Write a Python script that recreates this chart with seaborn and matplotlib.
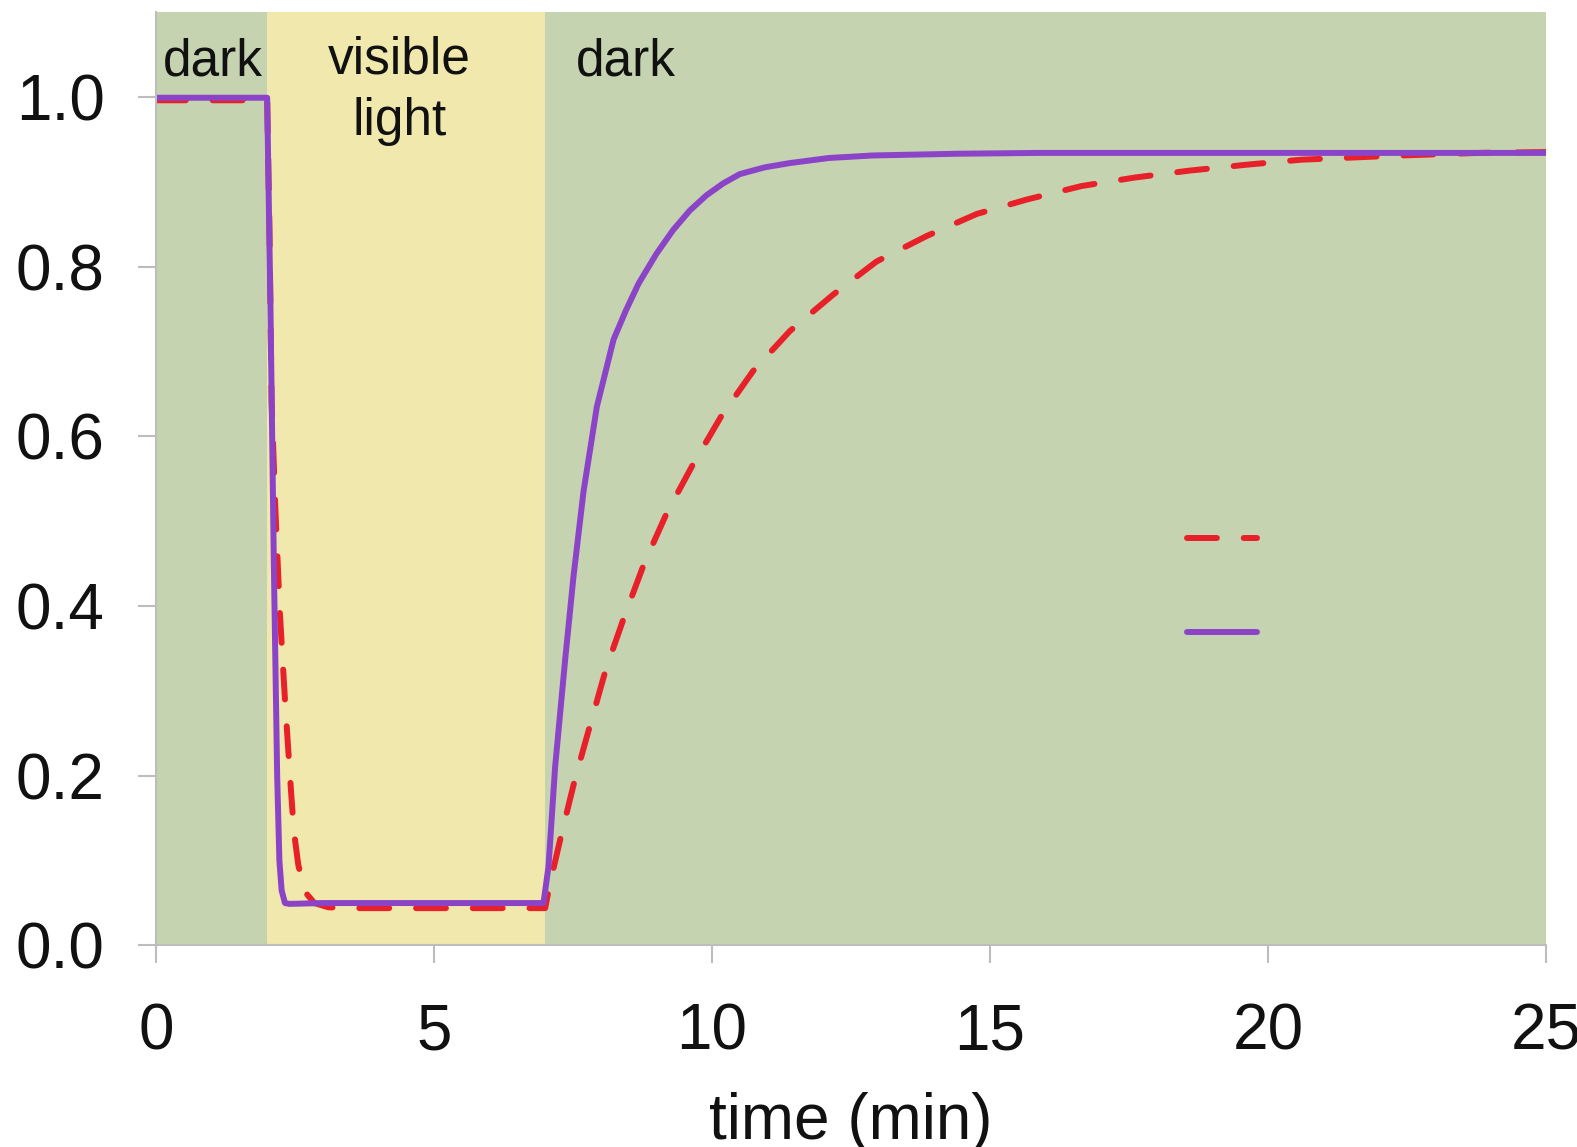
import matplotlib
matplotlib.use('agg')
import matplotlib.pyplot as plt
from matplotlib.lines import Line2D
import numpy as np
import pandas as pd
import seaborn as sns

# light / dark phases of the experiment
phase_start = [0, 2, 7]
phase_end = [2, 7, 25]
phase_color = ['#C5D3B0', '#F0E8AC', '#C5D3B0']
phase_label = ['dark', 'visible\nlight', 'dark']
phase_label_x = [1.03, 4.38, 8.45]
phase_label_y = [1.025, 0.955, 1.025]

# slow recovering series (red dashed)
t_slow = [0, 2.0, 2.04, 2.08, 2.15, 2.23, 2.32, 2.41, 2.48, 2.56, 2.64, 2.72, 2.85,
          3.1, 3.5, 5.0, 6.5, 7.0, 7.09, 7.30, 7.54, 7.81, 8.09, 8.42, 8.78, 9.19,
          9.66, 10.17, 10.74, 11.40, 12.18, 12.96, 13.86, 14.76, 15.66, 16.65,
          17.61, 18.57, 19.6, 20.6, 22.4, 23.8, 25.0]
v_slow = [0.996, 0.996, 0.85, 0.64, 0.51, 0.39, 0.29, 0.20, 0.135, 0.095, 0.072,
          0.06, 0.05, 0.045, 0.044, 0.044, 0.044, 0.044, 0.074, 0.133, 0.197, 0.26,
          0.325, 0.387, 0.45, 0.51, 0.567, 0.624, 0.677, 0.724, 0.767, 0.806,
          0.836, 0.862, 0.879, 0.895, 0.905, 0.913, 0.92, 0.926, 0.931, 0.934, 0.935]

# fast recovering series (purple solid)
t_fast = [0, 2.0, 2.06, 2.12, 2.18, 2.22, 2.26, 2.32, 2.4, 3.0, 5.0, 6.97, 7.06,
          7.18, 7.36, 7.51, 7.69, 7.93, 8.23, 8.45, 8.68, 9.0, 9.3, 9.6, 9.9, 10.2,
          10.5, 10.95, 11.4, 12.1, 12.9, 14.4, 15.9, 25]
v_fast = [0.999, 0.999, 0.75, 0.45, 0.2, 0.1, 0.065, 0.05, 0.049, 0.05, 0.05, 0.05,
          0.093, 0.211, 0.337, 0.435, 0.535, 0.635, 0.714, 0.748, 0.78, 0.815, 0.843,
          0.866, 0.884, 0.898, 0.909, 0.917, 0.922, 0.928, 0.931, 0.933, 0.934, 0.934]

x_ticks = [0, 5, 10, 15, 20, 25]
y_ticks = [0.0, 0.2, 0.4, 0.6, 0.8, 1.0]

RED = '#E8202A'
PURPLE = '#8B44C8'
GREY = '#BDBDBD'
LW = 4.3
DASH = (5, 4.5)

df = pd.concat([
    pd.DataFrame({'t': t_slow, 'v': v_slow, 'series': 'slow'}),
    pd.DataFrame({'t': t_fast, 'v': v_fast, 'series': 'fast'}),
], ignore_index=True)

sns.set_style('ticks')
plt.rcParams['font.family'] = ['Liberation Sans', 'DejaVu Sans']

fig = plt.figure(figsize=(15.77, 11.47), dpi=100)
ax = fig.add_axes([0.0989, 0.1757, 0.8814, 0.8138])

for s, e, c in zip(phase_start, phase_end, phase_color):
    ax.axvspan(s, e, color=c, lw=0, zorder=0)

sns.lineplot(data=df, x='t', y='v', hue='series', style='series',
             palette={'slow': RED, 'fast': PURPLE},
             dashes={'slow': DASH, 'fast': ''},
             hue_order=['slow', 'fast'], linewidth=LW, sort=False,
             estimator=None, legend=False, ax=ax)
for ln in ax.get_lines():
    ln.set_dash_capstyle('round')
    ln.set_solid_capstyle('round')
    ln.set_solid_joinstyle('round')
    ln.set_dash_joinstyle('round')

for lx, ly, lab in zip(phase_label_x, phase_label_y, phase_label):
    ax.text(lx, ly, lab, ha='center', va='baseline', fontsize=37,
            linespacing=1.33, color='#111111')

handles = [Line2D([], [], color=RED, lw=LW, dashes=DASH, dash_capstyle='round'),
           Line2D([], [], color=PURPLE, lw=LW, solid_capstyle='round')]
ax.legend(handles, [' ', ' '], loc='upper left', bbox_to_anchor=(0.734, 0.459),
          frameon=False, fontsize=20, handlelength=2.5, labelspacing=2.45,
          borderaxespad=0)

ax.set_xlim(0, 25)
ax.set_ylim(0, 1.1)
ax.set_xticks(x_ticks)
ax.set_yticks(y_ticks)
ax.set_yticklabels([f'{v:.1f}' for v in y_ticks])
ax.tick_params(axis='both', labelsize=46, length=13, width=1.5, color=GREY,
               labelcolor='#111111')
ax.tick_params(axis='x', pad=28)
ax.tick_params(axis='y', pad=24)
ax.set_xlabel('time (min)', fontsize=46, labelpad=21, color='#111111')
ax.set_ylabel('')

for side in ['top', 'right']:
    ax.spines[side].set_visible(False)
for side in ['left', 'bottom']:
    ax.spines[side].set_color(GREY)
    ax.spines[side].set_linewidth(1.5)

fig.savefig('out.png', dpi=100)
